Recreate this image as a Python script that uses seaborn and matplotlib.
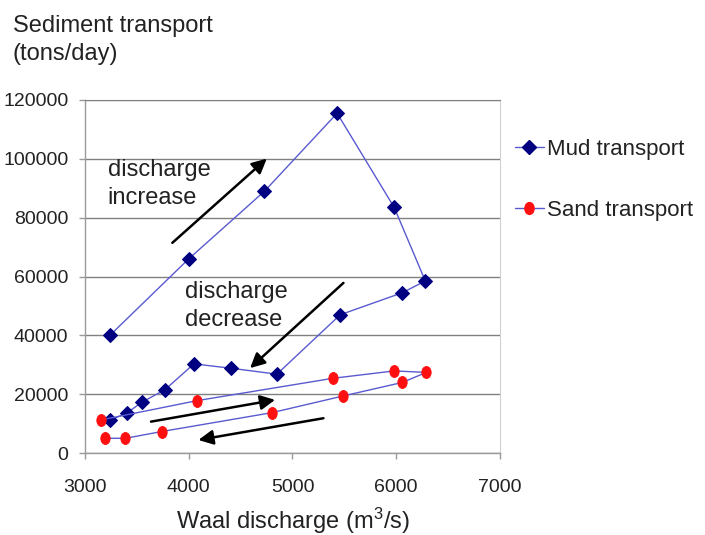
import matplotlib
matplotlib.use("Agg")
import matplotlib.pyplot as plt
from matplotlib.markers import MarkerStyle
from matplotlib.transforms import Affine2D
from matplotlib.lines import Line2D
import seaborn as sns
import pandas as pd

# ---- data ----
mud_discharge = [3240, 4000, 4730, 5430, 5980, 6280, 6060, 5460, 4850, 4410, 4050, 3770, 3550, 3400, 3240]
mud_transport = [40000, 66000, 89000, 115500, 83500, 58500, 54500, 47000, 26800, 28800, 30300, 21500, 17300, 13500, 11200]

sand_discharge = [3150, 4080, 5390, 5980, 6290, 6060, 5490, 4800, 3740, 3390, 3190]
sand_transport = [11200, 17800, 25400, 27900, 27400, 24000, 19400, 13700, 7300, 5000, 5000]

x_ticks = [3000, 4000, 5000, 6000, 7000]
y_ticks = [0, 20000, 40000, 60000, 80000, 100000, 120000]

series_labels = ["Mud transport", "Sand transport"]
x_label = "Waal discharge (m$^3$/s)"
y_label = "Sediment transport\n(tons/day)"

# ---- style ----
sns.set_style("white")
plt.rcParams["font.family"] = ["Liberation Sans", "DejaVu Sans"]
plt.rcParams["mathtext.fontset"] = "custom"
plt.rcParams["mathtext.rm"] = "Liberation Sans"
plt.rcParams["mathtext.it"] = "Liberation Sans"
text_color = "#222222"
line_color = "#5a5ad0"
mud_color = "#000080"
sand_color = "#ff1010"

fig = plt.figure(figsize=(7.05, 5.35), dpi=100)
ax = fig.add_axes([85 / 705, 1 - 453 / 535, 415 / 705, 353 / 535])

mud_df = pd.DataFrame({"x": mud_discharge, "y": mud_transport})
sand_df = pd.DataFrame({"x": sand_discharge, "y": sand_transport})

sand_marker = MarkerStyle("o", transform=Affine2D().scale(0.78, 1.0))

sns.lineplot(data=mud_df, x="x", y="y", sort=False, estimator=None, ax=ax,
             color=line_color, lw=1.0, marker="D", markersize=7.5,
             markerfacecolor=mud_color, markeredgecolor=mud_color, zorder=3)
sns.lineplot(data=sand_df, x="x", y="y", sort=False, estimator=None, ax=ax,
             color=line_color, lw=1.0, marker=sand_marker, markersize=8.5,
             markerfacecolor=sand_color, markeredgecolor=sand_color, zorder=3)

ax.set_xlim(x_ticks[0], x_ticks[-1])
ax.set_ylim(y_ticks[0], y_ticks[-1])
ax.set_xticks(x_ticks)
ax.set_yticks(y_ticks)
ax.set_xticklabels([str(v) for v in x_ticks])
ax.set_yticklabels([str(v) for v in y_ticks])

ax.yaxis.grid(True, color="#808080", lw=1.0)
ax.xaxis.grid(False)
ax.set_axisbelow(True)
for side in ["left", "bottom"]:
    ax.spines[side].set_color("#9a9a9a")
    ax.spines[side].set_linewidth(1.0)
ax.spines["right"].set_color("#d0d0d0")
ax.spines["top"].set_color("#808080")

ax.tick_params(axis="both", which="major", direction="out", length=4, width=1,
               color="#9a9a9a", labelsize=14, labelcolor=text_color,
               bottom=True, left=True)
ax.tick_params(axis="x", pad=15)
ax.tick_params(axis="y", pad=8)

ax.set_xlabel(x_label, fontsize=17, color=text_color, labelpad=7)
ax.set_ylabel("")
fig.text(13 / 705, 1 - 15 / 535, y_label, fontsize=17, color=text_color,
         ha="left", va="top", linespacing=1.35)

# ---- annotations ----
ann_kw = dict(fontsize=17, color=text_color, ha="left", va="center", linespacing=1.35)
ax.text(3220, 91500, "discharge\nincrease", **ann_kw)
ax.text(3960, 50000, "discharge\ndecrease", **ann_kw)

arrow_kw = dict(arrowstyle="-|>", color="black", lw=1.8, mutation_scale=22,
                shrinkA=0, shrinkB=0)
arrows = [((3842, 71450), (4752, 100070)),
          ((5491, 57820), (4591, 28860)),
          ((3636, 10660), (4832, 18060)),
          ((5298, 11820), (4093, 4430))]
for start, end in arrows:
    ax.annotate("", xy=end, xytext=start, arrowprops=arrow_kw)

# ---- legend ----
handles = [Line2D([], [], color=line_color, lw=1.0, marker="D", markersize=7.5,
                  markerfacecolor=mud_color, markeredgecolor=mud_color),
           Line2D([], [], color=line_color, lw=1.0, marker=sand_marker, markersize=8.5,
                  markerfacecolor=sand_color, markeredgecolor=sand_color)]
fig.legend(handles, series_labels, loc="upper left",
           bbox_to_anchor=(515 / 705, 1 - 139 / 535), frameon=False,
           fontsize=16, labelcolor=text_color, handlelength=1.3,
           handletextpad=0.12, labelspacing=1.8, borderaxespad=0,
           borderpad=0)

fig.savefig("out.png", dpi=100)
